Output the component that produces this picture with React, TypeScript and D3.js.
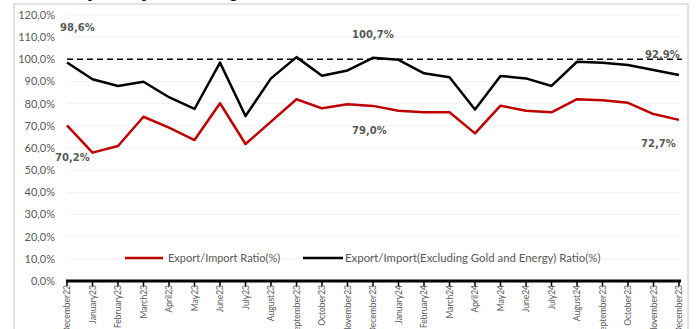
import React from "react";
import * as d3 from "d3";

const categories = [
  "December22", "January23", "February23", "March23", "April23", "May23", "June23",
  "July23", "August23", "September23", "October23", "November23", "December23",
  "January24", "February24", "March24", "April24", "May24", "June24", "July24",
  "August24", "September23", "October23", "November23", "December23",
];

const ratioAll = [
  70.2, 57.9, 60.9, 74.1, 69.2, 63.6, 80.2, 61.8, 71.9, 82.0, 77.9, 79.7, 79.0,
  76.8, 76.1, 76.1, 66.6, 79.1, 76.8, 76.1, 82.0, 81.5, 80.4, 75.3, 72.7,
];

const ratioExcl = [
  98.6, 91.0, 88.0, 89.9, 82.9, 77.6, 98.5, 74.4, 91.4, 101.0, 92.6, 95.0, 100.7,
  99.8, 93.7, 91.9, 77.4, 92.5, 91.4, 88.0, 98.9, 98.5, 97.4, 95.2, 92.9,
];

const yTicks = [0, 10, 20, 30, 40, 50, 60, 70, 80, 90, 100, 110, 120];

const seriesNames = ["Export/Import Ratio(%)", "Export/Import(Excluding Gold and Energy) Ratio(%)"];

const labelsExcl = [
  { i: 0, text: "98,6%", dx: -7, y: 27 },
  { i: 12, text: "100,7%", dx: -21, y: 34 },
  { i: 24, text: "92,9%", dx: -34, y: 54 },
];
const labelsAll = [
  { i: 0, text: "70,2%", dx: -12, y: 157 },
  { i: 12, text: "79,0%", dx: -21, y: 130 },
  { i: 24, text: "72,7%", dx: -38, y: 143 },
];

const fmt = (v: number) => v.toFixed(1).replace(".", ",") + "%";

export default function App() {
  const W = 696, H = 329;
  const x = d3.scalePoint<string>().domain(categories.map((c, i) => i + "")).range([67, 679]);
  const y = d3.scaleLinear().domain([0, 120]).range([281, 15]);
  const xi = (i: number) => x(i + "") as number;
  const line = d3.line<number>().x((_, i) => xi(i)).y((d) => y(d));
  const grey = "#595959";
  const font = "Lato, 'Open Sans', sans-serif";
  const lblFont = "'DejaVu Sans', sans-serif";

  return (
    <svg width={W} height={H} style={{ position: "absolute", left: 0, top: 0, background: "#fff" }}>
      <text x={4} y={-3} fontFamily="'Liberation Serif', serif" fontStyle="italic" fontSize={18} fill="#000">
        Chart 2: Export/Import Coverage Ratio
      </text>
      <rect x={14} y={4} width={674} height={340} fill="none" stroke="#d9d9d9" strokeWidth={1.5} />
      {yTicks.map((t) => (
        <g key={t}>
          {t > 0 && (
            <line x1={67} x2={680} y1={y(t)} y2={y(t)} stroke="#f2f2f2" strokeWidth={1} />
          )}
          <text x={55} y={y(t)} dy="0.35em" textAnchor="end" fontFamily={font} fontSize={11} fill={grey}>
            {fmt(t)}
          </text>
        </g>
      ))}
      <line x1={67} x2={682} y1={y(100)} y2={y(100)} stroke="#000" strokeWidth={1.5} strokeDasharray="6,4" />
      <line x1={66} x2={681} y1={y(0)} y2={y(0)} stroke="#000" strokeWidth={3} />
      {categories.map((c, i) => (
        <g key={i}>
          <line x1={xi(i)} x2={xi(i)} y1={y(0)} y2={y(0) + 5} stroke="#000" strokeWidth={1.5} />
          <text
            transform={`translate(${xi(i) + 3},${285}) rotate(-90)`}
            textAnchor="end"
            fontFamily={font}
            fontSize={8.5}
            fill={grey}
          >
            {c}
          </text>
        </g>
      ))}
      <path d={line(ratioAll) as string} fill="none" stroke="#C00000" strokeWidth={2.5} strokeLinejoin="round" />
      <path d={line(ratioExcl) as string} fill="none" stroke="#000" strokeWidth={2.5} strokeLinejoin="round" />
      {labelsExcl.concat(labelsAll).map((l, k) => (
        <text key={k} x={xi(l.i) + l.dx} y={l.y} dy="0.35em" fontFamily={lblFont} fontWeight="bold" fontSize={10} fill={grey}>
          {l.text}
        </text>
      ))}
      <g>
        <line x1={125} x2={163} y1={258} y2={258} stroke="#C00000" strokeWidth={2.5} />
        <text x={168} y={258} dy="0.35em" fontFamily={font} fontSize={11} fill={grey}>{seriesNames[0]}</text>
        <line x1={303} x2={343} y1={258} y2={258} stroke="#000" strokeWidth={2.5} />
        <text x={345} y={258} dy="0.35em" fontFamily={font} fontSize={11.4} fill={grey}>{seriesNames[1]}</text>
      </g>
    </svg>
  );
}
